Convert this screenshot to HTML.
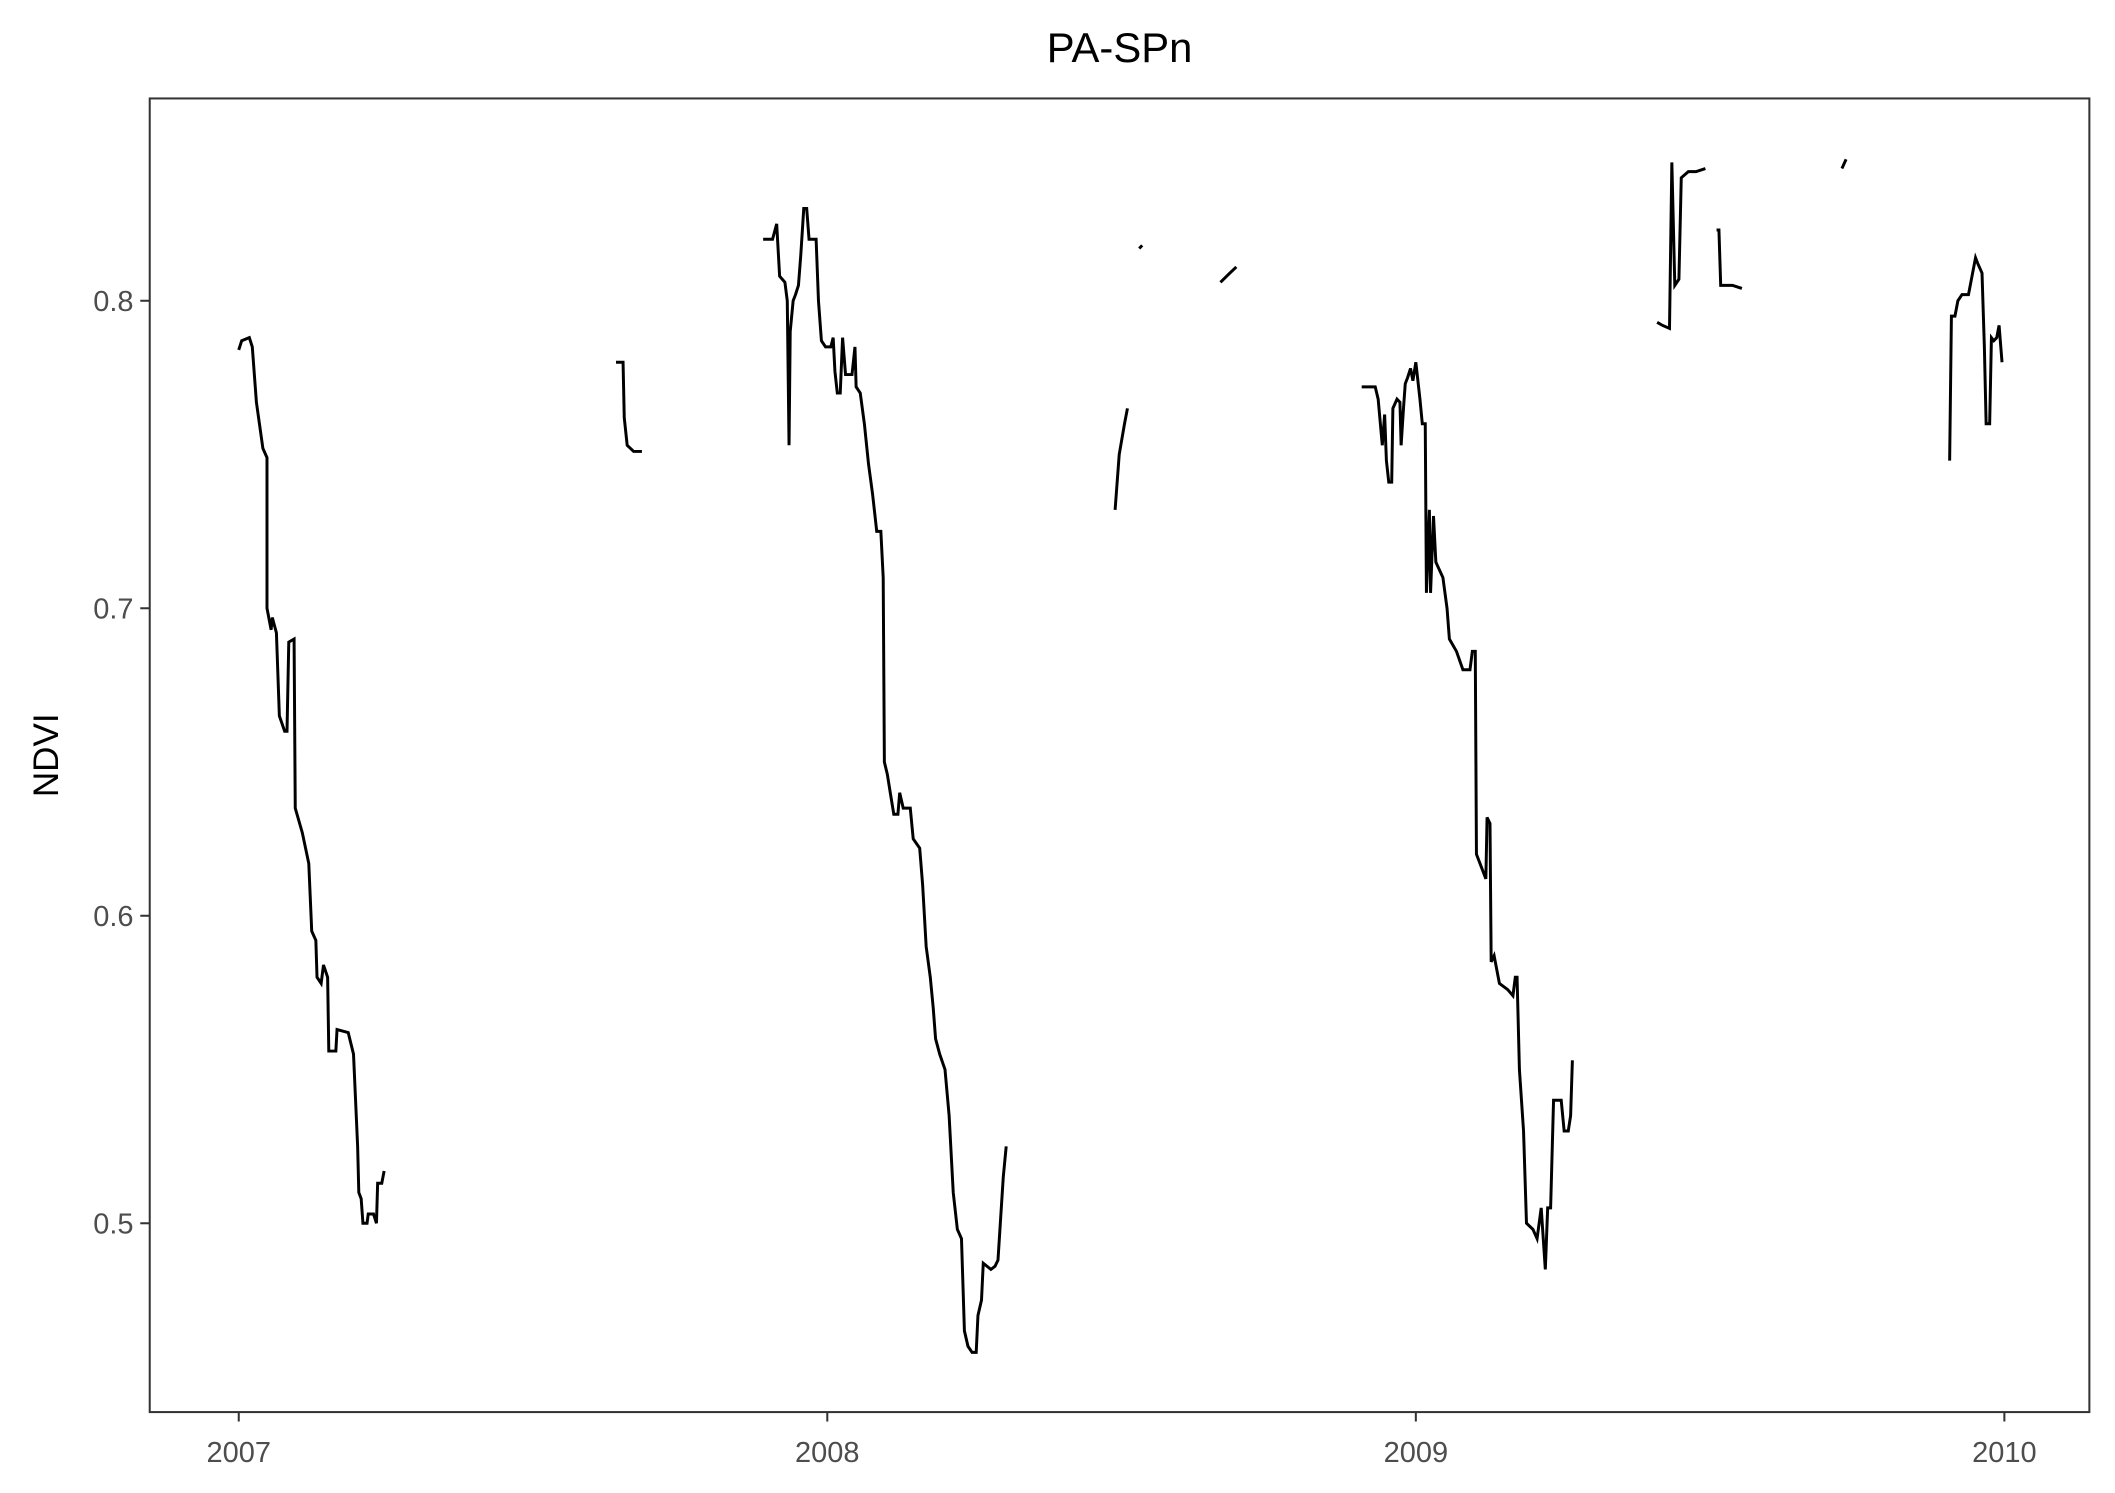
<!DOCTYPE html>
<html><head><meta charset="utf-8"><style>
html,body{margin:0;padding:0;background:#fff;}
svg{display:block;}
text{font-family:"Liberation Sans",sans-serif;}
</style></head><body>
<svg id="chart" width="2115" height="1493" viewBox="0 0 1568 1107" preserveAspectRatio="none" xmlns="http://www.w3.org/2000/svg">
<rect x="0" y="0" width="1568" height="1107" fill="#fff"/>
<text x="830" y="46" font-size="31" text-anchor="middle" fill="#000">PA-SPn</text>
<text transform="translate(43,560) rotate(-90)" font-size="26" text-anchor="middle" fill="#000">NDVI</text>
<g id="marks"></g>
<rect x="111" y="73" width="1438" height="974" fill="none" stroke="#333" stroke-width="1.5"/>
<g id="axes"></g>
</svg>
<script>
const xTicks = [0, 1, 2, 3];
const xTickLabels = ["2007", "2008", "2009", "2010"];
const yTicks = [0.5, 0.6, 0.7, 0.8];
const yTickLabels = ["0.5", "0.6", "0.7", "0.8"];
// segments: years since 2007-01-01 and NDVI values
const seg1T = [0,.005,.018,.023,.030,.041,.048,.048,.055,.057,.064,.069,.078,.082,.085,.094,.096,.108,.119,.124,.131,.133,.140,.144,.151,.153,.165,.167,.186,.195,.202,.204,.208,.211,.218,.220,.229,.234,.236,.243,.247];
const seg1V = [.784,.787,.788,.785,.767,.752,.749,.70,.693,.697,.692,.665,.660,.660,.689,.690,.635,.627,.617,.595,.592,.58,.578,.584,.58,.556,.556,.563,.562,.555,.525,.51,.508,.50,.50,.503,.503,.50,.513,.513,.517];
const seg2T = [.641,.653,.655,.660,.671,.685];
const seg2V = [.780,.780,.762,.753,.751,.751];
const seg3T = [.891,.907,.914,.919,.928,.932,.935,.937,.942,.946,.951,.955,.960,.965,.969,.981,.985,.990,.997,1.006,1.010,1.013,1.017,1.022,1.026,1.031,1.036,1.042,1.047,1.049,1.056,1.063,1.070,1.077,1.084,1.091,1.095,1.097,1.102,1.107,1.113,1.120,1.123,1.129,1.141,1.146,1.157,1.162,1.168,1.175,1.180,1.184,1.191,1.200,1.207,1.214,1.221,1.228,1.233,1.239,1.246,1.253,1.256,1.262,1.265,1.278,1.285,1.290,1.294,1.299,1.304];
const seg3V = [.820,.820,.825,.808,.806,.800,.753,.79,.80,.802,.805,.815,.83,.83,.82,.82,.80,.787,.785,.785,.788,.777,.770,.770,.788,.776,.776,.776,.785,.772,.77,.76,.747,.737,.725,.725,.71,.65,.646,.64,.633,.633,.64,.635,.635,.625,.622,.61,.59,.58,.57,.56,.555,.55,.535,.51,.498,.495,.465,.46,.458,.458,.470,.475,.487,.485,.486,.488,.50,.515,.525];
const seg4T = [1.489,1.496,1.505,1.510];
const seg4V = [.732,.75,.76,.765];
const seg5T = [1.530,1.535];
const seg5V = [.817,.818];
const seg6T = [1.668,1.684,1.695];
const seg6V = [.806,.809,.811];
const seg7T = [1.908,1.931,1.936,1.943,1.947,1.950,1.954,1.959,1.961,1.968,1.973,1.975,1.979,1.982,1.986,1.991,1.995,2.000,2.007,2.011,2.016,2.018,2.023,2.025,2.030,2.034,2.046,2.053,2.057,2.069,2.080,2.092,2.096,2.101,2.103,2.115,2.119,2.121,2.126,2.128,2.133,2.137,2.142,2.156,2.165,2.169,2.172,2.176,2.183,2.188,2.199,2.206,2.213,2.220,2.224,2.229,2.234,2.241,2.247,2.252,2.259,2.263,2.266];
const seg7V = [.772,.772,.768,.753,.763,.748,.741,.741,.765,.768,.767,.753,.765,.773,.775,.778,.774,.78,.768,.760,.76,.705,.732,.705,.73,.715,.71,.70,.69,.686,.68,.68,.686,.686,.62,.614,.612,.632,.63,.585,.587,.583,.578,.576,.574,.58,.58,.55,.53,.50,.498,.495,.505,.485,.505,.505,.540,.540,.540,.53,.53,.535,.553];
const seg8T = [2.410,2.419,2.431,2.435,2.440,2.447,2.451,2.463,2.476,2.492];
const seg8V = [.793,.792,.791,.845,.805,.807,.840,.842,.842,.843];
const seg9T = [2.511,2.515,2.518,2.538,2.554];
const seg9V = [.823,.823,.805,.805,.804];
const seg10T = [2.724,2.731];
const seg10V = [.843,.846];
const seg11T = [2.907,2.910,2.916,2.921,2.928,2.939,2.944,2.951,2.955,2.962,2.966,2.969,2.975,2.978,2.982,2.987,2.991,2.996];
const seg11V = [.748,.795,.795,.80,.802,.802,.807,.814,.812,.809,.785,.76,.76,.788,.787,.788,.792,.78];

const segT = [seg1T,seg2T,seg3T,seg4T,seg5T,seg6T,seg7T,seg8T,seg9T,seg10T,seg11T];
const segV = [seg1V,seg2V,seg3V,seg4V,seg5V,seg6V,seg7V,seg8V,seg9V,seg10V,seg11V];

function xs(t){ return 177 + t*436.33; }
function ys(v){ return 907 - (v-0.5)*2280; }
const NS = "http://www.w3.org/2000/svg";
const marks = document.getElementById('marks');
segT.forEach((T,i)=>{
  const V = segV[i];
  const p = document.createElementNS(NS,'polyline');
  p.setAttribute('points', T.map((t,j)=>xs(t).toFixed(2)+','+ys(V[j]).toFixed(2)).join(' '));
  p.setAttribute('fill','none');
  p.setAttribute('stroke','#000');
  p.setAttribute('stroke-width','2.2');
  
  
  marks.appendChild(p);
});
const axes = document.getElementById('axes');
xTicks.forEach((t,i)=>{
  const l = document.createElementNS(NS,'line');
  l.setAttribute('x1',xs(t)); l.setAttribute('x2',xs(t));
  l.setAttribute('y1',1047); l.setAttribute('y2',1054);
  l.setAttribute('stroke','#333'); l.setAttribute('stroke-width','1.5');
  
  
  axes.appendChild(l);
  const tx = document.createElementNS(NS,'text');
  tx.setAttribute('x',xs(t)); tx.setAttribute('y',1084);
  tx.setAttribute('font-size','21.5'); tx.setAttribute('text-anchor','middle'); tx.setAttribute('fill','#4d4d4d');
  tx.textContent = xTickLabels[i];
  
  
  axes.appendChild(tx);
});
yTicks.forEach((v,i)=>{
  const l = document.createElementNS(NS,'line');
  l.setAttribute('x1',104); l.setAttribute('x2',111);
  l.setAttribute('y1',ys(v)); l.setAttribute('y2',ys(v));
  l.setAttribute('stroke','#333'); l.setAttribute('stroke-width','1.5');
  
  
  axes.appendChild(l);
  const tx = document.createElementNS(NS,'text');
  tx.setAttribute('x',99); tx.setAttribute('y',ys(v)+7.5);
  tx.setAttribute('font-size','21.5'); tx.setAttribute('text-anchor','end'); tx.setAttribute('fill','#4d4d4d');
  tx.textContent = yTickLabels[i];
  
  
  axes.appendChild(tx);
});
</script>
</body></html>
